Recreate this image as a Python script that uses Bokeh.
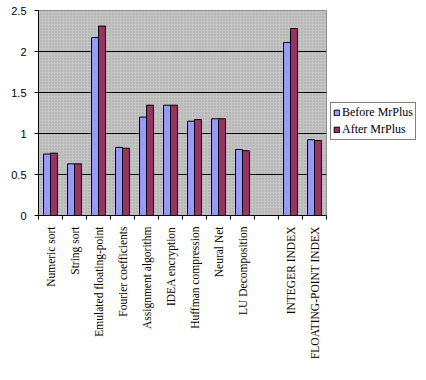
import numpy as np
from bokeh.plotting import figure
from bokeh.models import (ColumnDataSource, FixedTicker, Legend, LegendItem,
                          BoxAnnotation, Range1d)
from bokeh.transform import dodge
from bokeh.embed import file_html
from bokeh.resources import INLINE

categories = ["Numeric sort", "String sort", "Emulated floating-point",
              "Fourier coefficients", "Assignment algorithm", "IDEA encryption",
              "Huffman compression", "Neural Net", "LU Decomposition", "",
              "INTEGER INDEX", "FLOATING-POINT INDEX"]
before = [0.75, 0.63, 2.17, 0.83, 1.20, 1.345, 1.15, 1.18, 0.805, np.nan, 2.11, 0.925]
after = [0.76, 0.63, 2.31, 0.82, 1.345, 1.345, 1.17, 1.18, 0.79, np.nan, 2.28, 0.915]
series_names = ["Before MrPlus", "After MrPlus"]
colors = ["#9999FF", "#993366"]
y_ticks = [0, 0.5, 1, 1.5, 2, 2.5]
y_tick_labels = ["0", "0.5", "1", "1.5", "2", "2.5"]

n = len(categories)
xc = np.arange(n) + 0.5
source = ColumnDataSource(dict(x=xc, before=before, after=after))

p = figure(frame_width=288, frame_height=205, output_backend="svg", toolbar_location=None,
           x_range=Range1d(0, n), y_range=Range1d(0, 2.5),
           min_border_left=38, min_border_right=86, min_border_top=10, min_border_bottom=149)
p.background_fill_color = "#c4c4c4"
p.border_fill_color = "white"
p.outline_line_color = "#808080"

bg = BoxAnnotation(fill_color="#c4c4c4", fill_alpha=1, line_color=None,
                   hatch_pattern="dot", hatch_color="#8a8a8a", hatch_scale=3,
                   hatch_alpha=0.6, level="image")
p.add_layout(bg)

bw = 0.29
r1 = p.vbar(x=dodge("x", -bw / 2, range=p.x_range), top="before", width=bw,
            source=source, fill_color=colors[0], line_color="black", line_width=1)
r2 = p.vbar(x=dodge("x", bw / 2, range=p.x_range), top="after", width=bw,
            source=source, fill_color=colors[1], line_color="black", line_width=1)

p.xaxis.ticker = FixedTicker(ticks=list(xc), minor_ticks=list(range(n + 1)))
p.xaxis.major_label_overrides = {float(x): c for x, c in zip(xc, categories)}
p.xaxis.major_label_orientation = np.pi / 2
p.xaxis.major_tick_line_color = None
p.xaxis.minor_tick_line_color = "black"
p.xaxis.minor_tick_out = 4
p.xaxis.minor_tick_in = 0
p.xaxis.major_label_standoff = 5
p.xaxis.major_label_text_font = "Liberation Serif"
p.xaxis.major_label_text_font_size = "11.5px"
p.xaxis.major_label_text_color = "black"
p.xaxis.axis_line_color = "black"

p.yaxis.ticker = FixedTicker(ticks=y_ticks)
p.yaxis.major_label_overrides = {float(t): l for t, l in zip(y_ticks, y_tick_labels)}
p.yaxis.major_tick_out = 4
p.yaxis.major_tick_in = 0
p.yaxis.minor_tick_line_color = None
p.yaxis.major_label_standoff = 8
p.yaxis.major_label_text_font = "Liberation Sans"
p.yaxis.major_label_text_font_size = "11px"
p.yaxis.major_label_text_color = "black"
p.yaxis.axis_line_color = "black"

p.xgrid.grid_line_color = None
p.ygrid.grid_line_color = "black"

legend = Legend(items=[LegendItem(label=series_names[0], renderers=[r1]),
                       LegendItem(label=series_names[1], renderers=[r2])],
                location=(4, 75), orientation="vertical",
                label_text_font="Liberation Serif", label_text_font_size="12px",
                label_text_color="black",
                glyph_width=7, glyph_height=7, label_height=14, label_standoff=2,
                spacing=2, padding=2, margin=0,
                border_line_color="black", border_line_width=1,
                background_fill_color="white", background_fill_alpha=1)
p.add_layout(legend, "right")

open("out.html", "w").write(file_html(p, INLINE))
